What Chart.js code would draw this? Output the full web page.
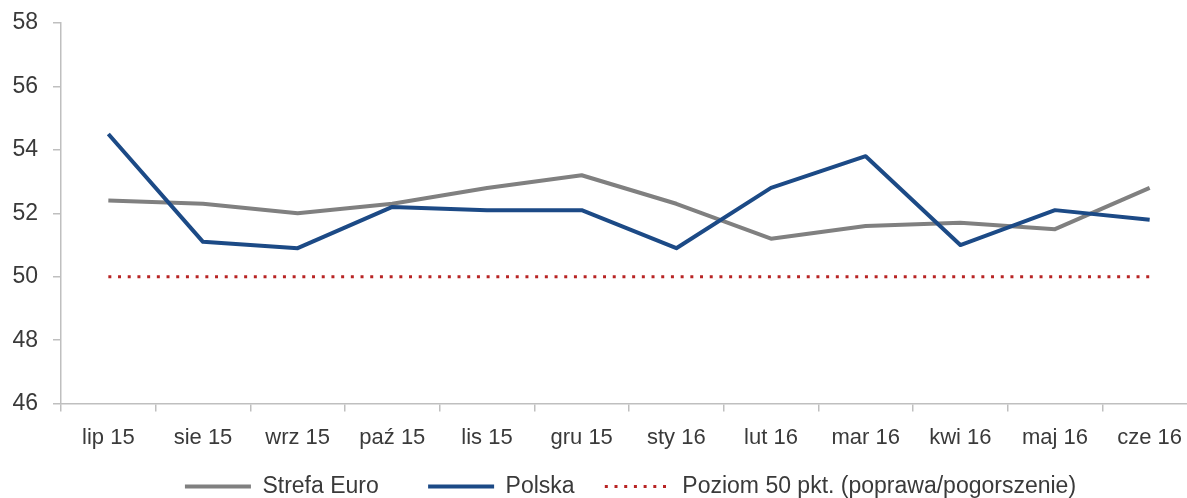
<!DOCTYPE html>
<html lang="pl">
<head>
    <meta charset="UTF-8">
    <title>Strefa Euro vs Polska</title>
    <script src="https://cdn.jsdelivr.net/npm/chart.js@4.4.0/dist/chart.umd.min.js"></script>
    <style>
        html, body {
            margin: 0;
            padding: 0;
            overflow: hidden;
            background: #fff;
        }
        .graph-container {
            width: 1261px;
            height: 498px;
        }
    </style>
</head>
<body>
    <div class="graph-container">
        <canvas id="myChart"></canvas>
    </div>

    <script>
        // dane
        const months = ['lip 15', 'sie 15', 'wrz 15', 'paź 15', 'lis 15', 'gru 15',
                        'sty 16', 'lut 16', 'mar 16', 'kwi 16', 'maj 16', 'cze 16'];
        const strefaEuro = [52.4, 52.3, 52.0, 52.3, 52.8, 53.2, 52.3, 51.2, 51.6, 51.7, 51.5, 52.8];
        const polska = [54.5, 51.1, 50.9, 52.2, 52.1, 52.1, 50.9, 52.8, 53.8, 51.0, 52.1, 51.8];
        const poziom50 = [50, 50, 50, 50, 50, 50, 50, 50, 50, 50, 50, 50];
        const yTicks = [46, 48, 50, 52, 54, 56, 58];

        const fontFamily = "'Liberation Sans', Arial, sans-serif";
        const textColor = '#3a3a3a';
        const axisColor = '#bfbfbf';
        // dodatkowy odstęp za tekstem w legendzie (spacje)
        const legendGap = ['      ', '   ', ''];

        var ctx = document.getElementById('myChart').getContext('2d');

        var chart = new Chart(ctx, {
            type: 'line',
            data: {
                labels: months,
                datasets: [{
                    label: 'Strefa Euro',
                    data: strefaEuro,
                    borderColor: '#808080',
                    backgroundColor: '#808080',
                    borderWidth: 4,
                    borderJoinStyle: 'round',
                    pointRadius: 0,
                    tension: 0,
                    order: 2
                }, {
                    label: 'Polska',
                    data: polska,
                    borderColor: '#1c4a86',
                    backgroundColor: '#1c4a86',
                    borderWidth: 4,
                    borderJoinStyle: 'round',
                    pointRadius: 0,
                    tension: 0,
                    order: 1
                }, {
                    label: 'Poziom 50 pkt. (poprawa/pogorszenie)',
                    data: poziom50,
                    borderColor: '#b82424',
                    backgroundColor: '#b82424',
                    borderWidth: 3,
                    borderDash: [3, 6.7],
                    pointRadius: 0,
                    tension: 0,
                    order: 3
                }]
            },
            options: {
                responsive: true,
                maintainAspectRatio: false,
                animation: false,
                layout: {
                    // ujemny dół - legenda bliżej krawędzi, jak w oryginale
                    padding: { top: 23, bottom: -10, left: 0, right: 0 }
                },
                plugins: {
                    tooltip: { enabled: false },
                    legend: {
                        position: 'bottom',
                        labels: {
                            usePointStyle: true,
                            pointStyle: 'line',
                            pointStyleWidth: 66,
                            boxHeight: 23,
                            padding: 11,
                            color: textColor,
                            font: { family: fontFamily, size: 23 },
                            sort: (a, b) => a.datasetIndex - b.datasetIndex,
                            generateLabels: (chart) => {
                                const items = Chart.defaults.plugins.legend.labels.generateLabels(chart);
                                items.forEach(it => {
                                    const ds = chart.data.datasets[it.datasetIndex];
                                    it.text = ds.label + legendGap[it.datasetIndex];
                                    it.lineWidth = ds.borderWidth;
                                    it.strokeStyle = ds.borderColor;
                                    it.lineDash = ds.borderDash || [];
                                });
                                return items;
                            }
                        }
                    }
                },
                scales: {
                    x: {
                        offset: true,
                        grid: {
                            offset: true,
                            drawOnChartArea: false,
                            tickLength: 8,
                            color: axisColor,
                            lineWidth: 1.5
                        },
                        border: { color: axisColor, width: 1.5 },
                        ticks: {
                            color: textColor,
                            padding: 13,
                            maxRotation: 0,
                            autoSkip: false,
                            font: { family: fontFamily, size: 22 }
                        }
                    },
                    y: {
                        min: 46,
                        max: 58,
                        afterFit: (s) => { s.width = 61; s.paddingTop = 0; },
                        afterBuildTicks: (s) => { s.ticks = yTicks.map(v => ({ value: v })); },
                        grid: {
                            drawOnChartArea: false,
                            tickLength: 8,
                            color: axisColor,
                            lineWidth: 1.5
                        },
                        border: { color: axisColor, width: 1.5 },
                        ticks: {
                            color: textColor,
                            padding: 15,
                            font: { family: fontFamily, size: 23 }
                        }
                    },
                    // pusta oś po prawej - tylko żeby legenda była przesunięta jak w oryginale
                    yPad: {
                        position: 'right',
                        display: true,
                        afterFit: (s) => { s.width = 64; s.paddingTop = 0; },
                        grid: { display: false },
                        border: { display: false },
                        ticks: { display: false }
                    }
                }
            }
        });
    </script>
</body>
</html>
